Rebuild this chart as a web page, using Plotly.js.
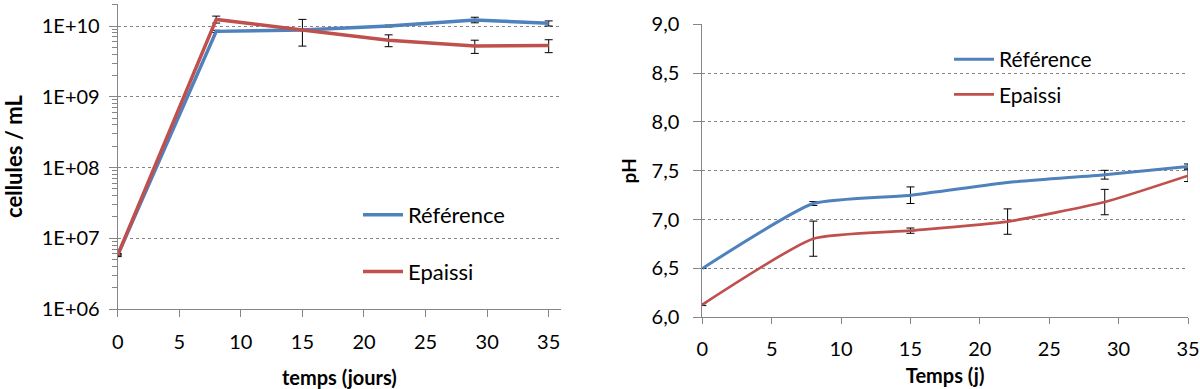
<!DOCTYPE html>
<html>
<head>
<meta charset="utf-8">
<script src="https://cdn.plot.ly/plotly-3.0.1.min.js"></script>
<style>html,body{margin:0;padding:0;background:#fff;}#chart{width:1200px;height:389px;}</style>
</head>
<body>
<div id="chart"></div>
<script>
// ---- Data ----
const days = [0, 8, 15, 22, 29, 35];

// Left chart: cell counts (cellules / mL)
const cellsRef = [5.8e6, 8.4e9, 8.8e9, 1.0e10, 1.22e10, 1.09e10];
const cellsRefErr = [0, 0.3e9, 0, 0.3e9, 1.1e9, 0.9e9];
const cellsEpa = [5.8e6, 1.24e10, 8.8e9, 6.3e9, 5.2e9, 5.3e9];
const cellsEpaErr = [0.3e6, 1.4e9, 3.6e9, 1.2e9, 1.1e9, 1.1e9];

// Right chart: pH
const phRef = [6.50, 7.165, 7.25, 7.38, 7.46, 7.545];
const phRefErr = [0.0, 0.02, 0.085, 0.0, 0.045, 0.025];
const phEpa = [6.13, 6.805, 6.887, 6.98, 7.18, 7.45];
const phEpaErr = [0.01, 0.18, 0.027, 0.13, 0.13, 0.06];

const logTickVals = [1e6, 1e7, 1e8, 1e9, 1e10];
const logTickText = ['1E+06', '1E+07', '1E+08', '1E+09', '1E+10'];

const seriesNames = ['Référence', 'Epaissi'];
const blue = '#4F81BD', red = '#C0504D';

const FONT = 'Lato, "Open Sans", sans-serif';
const errStyle = arr => ({type: 'data', array: arr, visible: true, color: '#000', thickness: 1, width: 4});

const traces = [
  {x: days, y: cellsRef, name: seriesNames[0], mode: 'lines', line: {color: blue, width: 3.5},
   error_y: errStyle(cellsRefErr), xaxis: 'x', yaxis: 'y', legend: 'legend', legendgroup: 'a'},
  {x: days, y: cellsEpa, name: seriesNames[1], mode: 'lines', line: {color: red, width: 3.5},
   error_y: errStyle(cellsEpaErr), xaxis: 'x', yaxis: 'y', legend: 'legend', legendgroup: 'b'},
  {x: days, y: phRef, name: seriesNames[0], mode: 'lines', line: {color: blue, width: 3, shape: 'spline', smoothing: 0.5},
   error_y: errStyle(phRefErr), xaxis: 'x2', yaxis: 'y2', legend: 'legend2', legendgroup: 'c'},
  {x: days, y: phEpa, name: seriesNames[1], mode: 'lines', line: {color: red, width: 2.7, shape: 'spline', smoothing: 0.5},
   error_y: errStyle(phEpaErr), xaxis: 'x2', yaxis: 'y2', legend: 'legend2', legendgroup: 'd'}
];

const W = 1200, H = 389;
const axisCommon = {
  showline: true, linecolor: '#868686', linewidth: 1,
  ticks: 'outside', tickcolor: '#868686', tickwidth: 1,
  tickfont: {family: FONT, size: 20, color: '#000'},
  zeroline: false, automargin: false, fixedrange: true
};

const layout = {
  width: W, height: H,
  margin: {l: 0, r: 0, t: 0, b: 0},
  paper_bgcolor: '#fff', plot_bgcolor: '#fff',
  separators: ', ',
  font: {family: FONT, color: '#000'},
  xaxis: Object.assign({}, axisCommon, {
    domain: [117.7 / W, 561 / W], range: [0, 36], tickmode: 'linear', tick0: 0, dtick: 5,
    ticklen: 7, ticklabelstandoff: 8, showgrid: false, anchor: 'y',
    title: {text: 'temps (jours)', font: {family: FONT, size: 20, color: '#000', weight: 'bold'}, standoff: 19}
  }),
  yaxis: Object.assign({}, axisCommon, {
    domain: [1 - 309 / H, 1 - 4 / H], type: 'log', range: [6, 10.311],
    tickmode: 'array', tickvals: logTickVals, ticktext: logTickText, ticklen: 8, ticklabelstandoff: 5,
    showgrid: true, gridcolor: '#868686', griddash: '3px,3px', gridwidth: 1,
    minor: {ticks: 'outside', ticklen: 5, tickcolor: '#868686', dtick: 'D1', showgrid: false},
    anchor: 'x',
    title: {text: 'cellules / mL', font: {family: FONT, size: 22, color: '#000', weight: 'bold'}, standoff: 17}
  }),
  xaxis2: Object.assign({}, axisCommon, {
    domain: [702.3 / W, 1188 / W], range: [0, 35], tickmode: 'linear', tick0: 0, dtick: 5,
    ticklen: 6, ticklabelstandoff: 8, showgrid: false, anchor: 'y2',
    title: {text: 'Temps (j)', font: {family: FONT, size: 20, color: '#000', weight: 'bold'}, standoff: 9}
  }),
  yaxis2: Object.assign({}, axisCommon, {
    domain: [1 - 317.3 / H, 1 - 24.3 / H], range: [6, 9], tickmode: 'linear', tick0: 6, dtick: 0.5,
    tickformat: '.1f', ticklen: 8, ticklabelstandoff: 10,
    showgrid: true, gridcolor: '#868686', griddash: '3px,3px', gridwidth: 1,
    anchor: 'x2',
    title: {text: 'pH', font: {family: FONT, size: 19, color: '#000', weight: 'bold'}, standoff: 9}
  }),
  legend: {
    x: 358 / W, y: 1 - 194 / H, xanchor: 'left', yanchor: 'top',
    bgcolor: 'rgba(0,0,0,0)', borderwidth: 0, traceorder: 'grouped', tracegroupgap: 25,
    font: {family: FONT, size: 22, color: '#000'}, itemwidth: 40
  },
  legend2: {
    x: 949 / W, y: 1 - 39 / H, xanchor: 'left', yanchor: 'top',
    bgcolor: 'rgba(0,0,0,0)', borderwidth: 0, traceorder: 'grouped', tracegroupgap: 5,
    font: {family: FONT, size: 21, color: '#000'}, itemwidth: 40
  },
  showlegend: true
};

Plotly.newPlot('chart', traces, layout, {displayModeBar: false, staticPlot: true});
</script>
</body>
</html>
